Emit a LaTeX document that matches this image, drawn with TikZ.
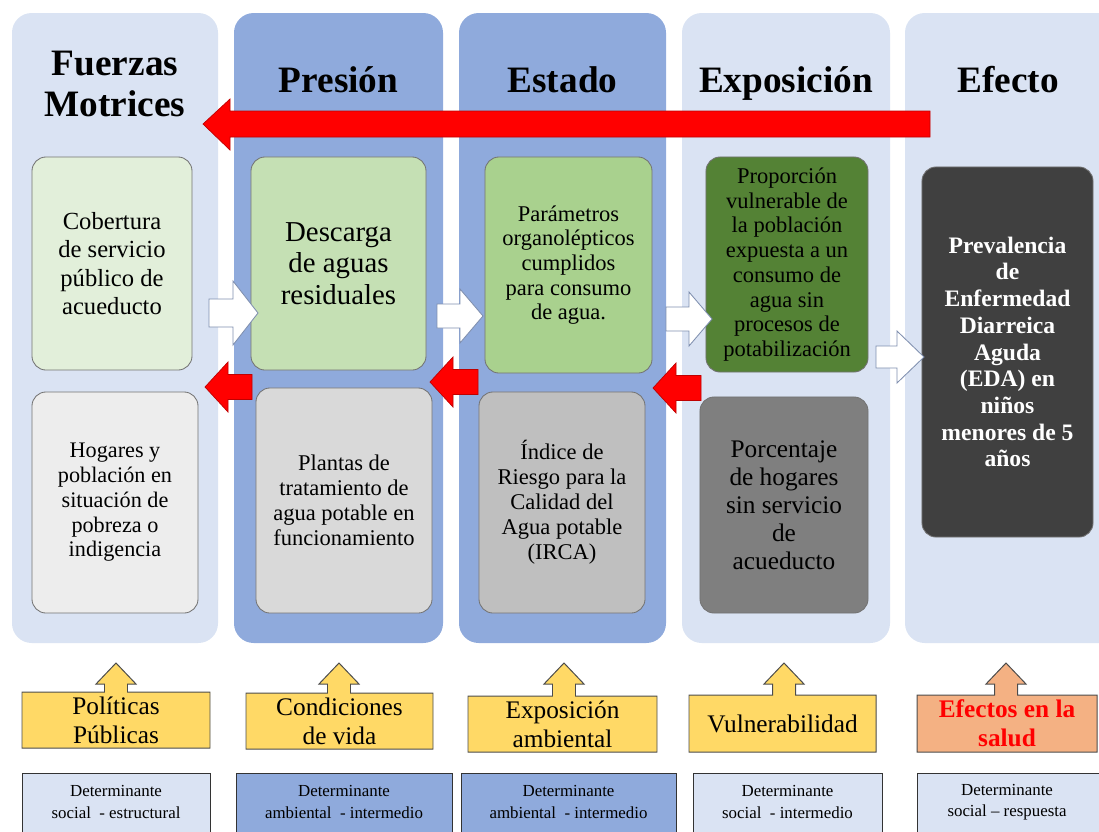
\documentclass[tikz,border=0pt]{standalone}
\usepackage{fontspec}
\setmainfont{Liberation Serif}
\definecolor{lightcol}{HTML}{DAE3F3}
\definecolor{midcol}{HTML}{8FAADC}
\definecolor{greenA}{HTML}{E2EFDA}
\definecolor{greenB}{HTML}{C5E0B4}
\definecolor{greenC}{HTML}{A9D18E}
\definecolor{greenD}{HTML}{548235}
\definecolor{grayA}{HTML}{EDEDED}
\definecolor{grayB}{HTML}{D9D9D9}
\definecolor{grayC}{HTML}{BFBFBF}
\definecolor{grayD}{HTML}{7F7F7F}
\definecolor{grayE}{HTML}{404040}
\definecolor{calloutyellow}{HTML}{FFD966}
\definecolor{calloutsalmon}{HTML}{F4B183}
\definecolor{arrowred}{HTML}{FF0000}
\definecolor{arrowline}{HTML}{7F8FAF}

\begin{document}
\begin{tikzpicture}[
        x=0.025cm, y=-0.025cm,
        column/.style={rounded corners=14pt},
        ibox/.style={draw=black!55, line width=0.6pt, rounded corners=10pt,
          align=center, inner sep=2pt},
        title/.style={font=\fontsize{26.5}{29}\selectfont\bfseries, align=center},
        whitearrow/.style={fill=white, draw=arrowline, line width=0.6pt},
        redarrow/.style={fill=arrowred, draw=arrowred!75!black, line width=0.5pt},
        callout/.style={draw=black!70, line width=0.7pt},
        detbox/.style={draw=black!80, line width=0.7pt},
        calltext/.style={align=center, font=\fontsize{18}{20.5}\selectfont},
        dettext/.style={align=center, font=\fontsize{12}{15}\selectfont}
      ]
      \useasboundingbox (0,0) rectangle (1099,831);
      % columns
      \fill[lightcol, column] (12,13) rectangle (218,643);
      \fill[midcol, column] (234,13) rectangle (443,643);
      \fill[midcol, column] (459,13) rectangle (666,643);
      \fill[lightcol, column] (682,13) rectangle (890,643);
      \fill[lightcol, column] (905,13) rectangle (1120,643);
      \node (fuerzas) [title] at (115,84) {Fuerzas\\Motrices};
      \node (presion) [title, anchor=base] at (338.5,92) {Presión};
      \node (estado) [title, anchor=base] at (562.5,92) {Estado};
      \node (exposicion) [title, anchor=base] at (786,92) {Exposición};
      \node (efecto) [title, anchor=base] at (1008,92) {Efecto};
      % indicator boxes
      \node (cob) [ibox, fill=greenA, minimum width=4cm, minimum height=5.325cm,
        font=\fontsize{17.5}{20.2}\selectfont] at (112,263.5)
        {Cobertura\\de servicio\\público de\\acueducto};
      \node (desc) [ibox, fill=greenB, minimum width=4.375cm, minimum height=5.325cm,
        font=\fontsize{20.5}{22.4}\selectfont] at (338.5,263.5)
        {Descarga\\de aguas\\residuales};
      \node (param) [ibox, fill=greenC, minimum width=4.175cm, minimum height=5.4cm,
        font=\fontsize{16}{17.5}\selectfont] at (568.5,265)
        {Parámetros\\organolépticos\\cumplidos\\para consumo\\de agua.};
      \node (prop) [ibox, fill=greenD, minimum width=4.05cm, minimum height=5.375cm,
        font=\fontsize{16}{17.6}\selectfont] at (787,264.5)
        {Proporción\\vulnerable de\\la población\\expuesta a un\\consumo de\\agua sin\\procesos de\\potabilización};
      \node (prev) [ibox, fill=grayE, text=white, minimum width=4.275cm, minimum height=9.25cm,
        font=\fontsize{16.8}{19}\selectfont\bfseries] at (1007.5,352)
        {Prevalencia\\de\\Enfermedad\\Diarreica\\Aguda\\(EDA) en\\niños\\menores de 5\\años};
      \node (hog) [ibox, fill=grayA, minimum width=4.15cm, minimum height=5.525cm,
        font=\fontsize{15.8}{17.6}\selectfont] at (115,502.5)
        {Hogares y\\población en\\situación de\\pobreza o\\indigencia};
      \node (plant) [ibox, fill=grayB, minimum width=4.4cm, minimum height=5.625cm,
        font=\fontsize{16}{17.7}\selectfont] at (344,500.5)
        {Plantas de\\tratamiento de\\agua potable en\\funcionamiento};
      \node (irca) [ibox, fill=grayC, minimum width=4.15cm, minimum height=5.525cm,
        font=\fontsize{16}{17.7}\selectfont] at (562,502.5)
        {Índice de\\Riesgo para la\\Calidad del\\Agua potable\\(IRCA)};
      \node (porc) [ibox, fill=grayD, minimum width=4.2cm, minimum height=5.4cm,
        font=\fontsize{18}{20}\selectfont] at (784,505)
        {Porcentaje\\de hogares\\sin servicio\\de\\acueducto};
      % feedback arrow
      \filldraw[redarrow] (930,111) -- (230,111) -- (230,99) -- (203,124)
        -- (230,150) -- (230,137) -- (930,137) -- cycle;
      \foreach \xa/\xb/\xc/\yc/\s/\h in {209/233/258/313/14/32, 437/460/483/316/12/27,
          666/689/712/319/12/27, 876/897/924/357/11/26}
        \filldraw[whitearrow] (\xa,\yc-\s) -- (\xb,\yc-\s) -- (\xb,\yc-\h) -- (\xc,\yc)
          -- (\xb,\yc+\h) -- (\xb,\yc+\s) -- (\xa,\yc+\s) -- cycle;
      \foreach \xt/\xb/\xa/\yc in {205/228/252/387, 430/453/478/382, 653/676/701/388}
        \filldraw[redarrow] (\xa,\yc-12.5) -- (\xb,\yc-12.5) -- (\xb,\yc-25) -- (\xt,\yc)
          -- (\xb,\yc+25) -- (\xb,\yc+12.5) -- (\xa,\yc+12.5) -- cycle;
      % determinant callouts
      \foreach \xa/\xb/\ya/\yb/\ax/\fc in {22/210/692/748/116/calloutyellow,
          246/433/693/749/339/calloutyellow, 468/657/696/752/564/calloutyellow,
          689/876/695/752/784/calloutyellow, 917/1097/695/752/1006/calloutsalmon}
        \filldraw[callout, fill=\fc] (\xa,\ya) -- (\ax-11.5,\ya) -- (\ax-11.5,684)
          -- (\ax-20,684) -- (\ax,663) -- (\ax+20,684) -- (\ax+11.5,684)
          -- (\ax+11.5,\ya) -- (\xb,\ya) -- (\xb,\yb) -- (\xa,\yb) -- cycle;
      \node (politicas) [calltext] at (116,720) {Políticas\\Públicas};
      \node (condiciones) [calltext] at (339.5,721) {Condiciones\\de vida};
      \node (ambiental) [calltext] at (562.5,724) {Exposición\\ambiental};
      \node (vulnerab) [calltext] at (782.5,723.5) {Vulnerabilidad};
      \node (salud) [calltext, text=arrowred, font=\fontsize{18}{20.5}\selectfont\bfseries]
        at (1007,723.5) {Efectos en la\\salud};
      % determinant type
      \filldraw[detbox, fill=lightcol] (22,773) rectangle (210,850);
      \filldraw[detbox, fill=midcol] (236,773) rectangle (452,850);
      \filldraw[detbox, fill=midcol] (461,773) rectangle (676,850);
      \filldraw[detbox, fill=lightcol] (693,773) rectangle (882,850);
      \filldraw[detbox, fill=lightcol] (917,773) rectangle (1110,850);
      \node (det1) [dettext] at (116,802) {Determinante\\social\ \ - estructural};
      \node (det2) [dettext] at (344,802) {Determinante\\ambiental\ \ - intermedio};
      \node (det3) [dettext] at (568.5,802) {Determinante\\ambiental\ \ - intermedio};
      \node (det4) [dettext] at (787.5,802) {Determinante\\social\ \ - intermedio};
      \node (det5) [dettext] at (1007,802) {Determinante\\social \textendash\ respuesta};
    \end{tikzpicture}
\end{document}
